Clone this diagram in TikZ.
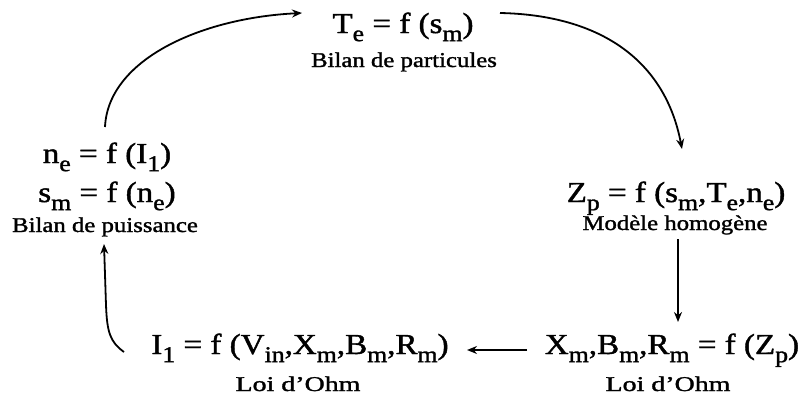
\documentclass[tikz,border=0pt]{standalone}
\usepackage{fontspec}
\setmainfont{Liberation Serif}[BoldFont={Liberation Serif}, BoldFeatures={FakeBold=1.3}]
\usetikzlibrary{arrows.meta}
\newcommand{\sbs}[1]{\raisebox{-0.28em}{\scalebox{0.78}{#1}}}
\newcommand{\eqtext}[1]{\scalebox{1.14}[1]{#1}}
\newcommand{\lbltext}[1]{\scalebox{1.18}[1]{#1}}
\newcommand{\ohmtext}[1]{\scalebox{1.33}[1]{#1}}
\tikzset{
  eq/.style={inner sep=0pt, anchor=base, font=\fontsize{29}{32}\selectfont\bfseries},
  lbl/.style={inner sep=0pt, anchor=base, font=\fontsize{21}{23}\selectfont\bfseries},
  conn/.style={line width=1.8pt, -{Stealth[length=10pt,width=8pt]}},
}
\begin{document}
\begin{tikzpicture}[x=1pt,y=-1pt]
\useasboundingbox (0,0) rectangle (806,399);
% nodes (positions are baselines)
\node[eq] (te) at (403,33) {\eqtext{T\sbs{e} = f (s\sbs{m})}};
\node[lbl] (tel) at (404,67) {\lbltext{Bilan de particules}};
\node[eq] (ne) at (107,163) {\eqtext{n\sbs{e} = f (I\sbs{1})}};
\node[eq] (sm) at (107,202) {\eqtext{s\sbs{m} = f (n\sbs{e})}};
\node[lbl] (sml) at (105,232) {\lbltext{Bilan de puissance}};
\node[eq] (zp) at (676,202) {\eqtext{Z\sbs{p} = f (s\sbs{m},T\sbs{e},n\sbs{e})}};
\node[lbl] (zpl) at (675,230) {\lbltext{Modèle homogène}};
\node[eq] (xm) at (672,354) {\eqtext{X\sbs{m},B\sbs{m},R\sbs{m} = f (Z\sbs{p})}};
\node[lbl] (xml) at (668,391) {\ohmtext{Loi d’Ohm}};
\node[eq] (ii) at (300,354) {\eqtext{I\sbs{1} = f (V\sbs{in},X\sbs{m},B\sbs{m},R\sbs{m})}};
\node[lbl] (iil) at (298,391) {\ohmtext{Loi d’Ohm}};
% connector end points
\coordinate (a1) at (105,127);
\coordinate (a2) at (302,13);
\coordinate (b1) at (500,13);
\coordinate (b2) at (682,149);
\coordinate (c1) at (678,239);
\coordinate (c2) at (678,322);
\coordinate (d1) at (527,350);
\coordinate (d2) at (467,350);
\coordinate (e1) at (124,352);
\coordinate (e2) at (104,244);
% connectors
\draw[conn] (a1) .. controls (108,60) and (200,18) .. (a2);
\draw[conn] (b1) .. controls (600,15) and (665,60) .. (b2);
\draw[conn] (c1) -- (c2);
\draw[conn] (d1) -- (d2);
\draw[conn] (e1) .. controls (110,342) and (107,332) .. (106,305) -- (e2);
\end{tikzpicture}
\end{document}
